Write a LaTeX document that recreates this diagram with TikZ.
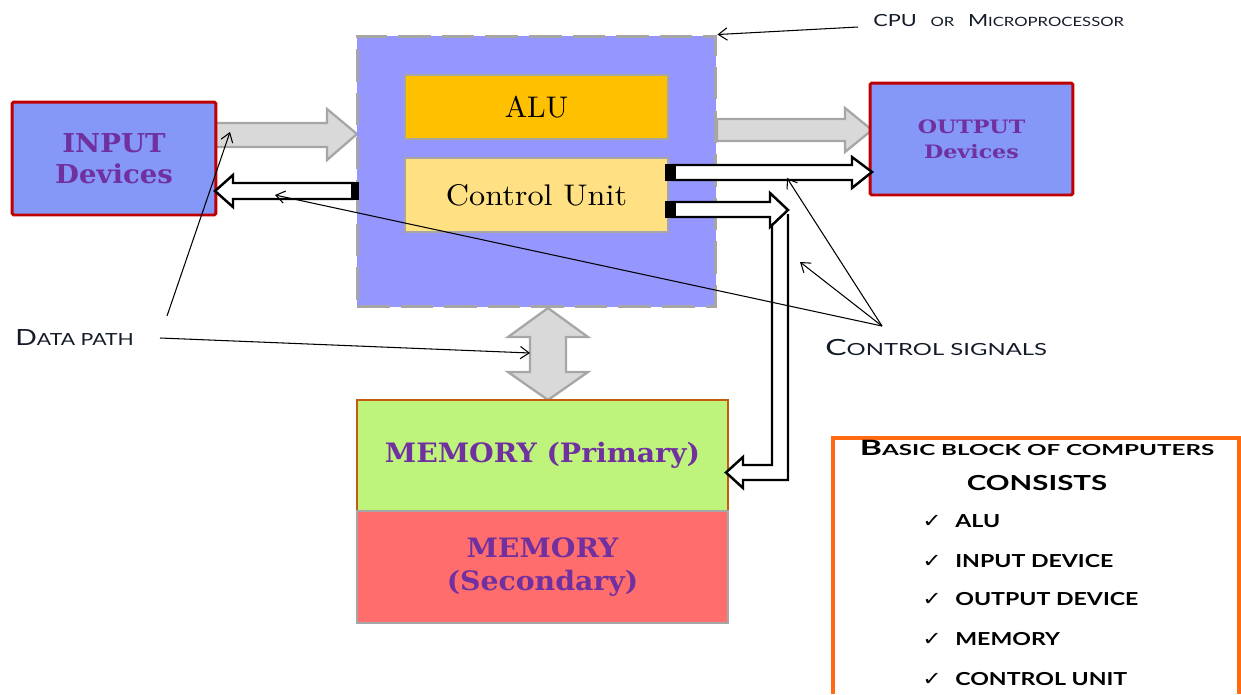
\documentclass[tikz,border=0pt]{standalone}
\usepackage{fontspec}
\usepackage{graphicx}
\usetikzlibrary{arrows.meta}
\newfontfamily\labelfont{Lato}
\newfontfamily\symfont{DejaVu Sans}
\newfontfamily\serifbold{DejaVu Serif}[UprightFont=*-Bold]
\newfontfamily\serifreg{lmroman10-regular.otf}
\definecolor{devfill}{HTML}{8597F7}
\definecolor{cpufill}{HTML}{9696FF}
\definecolor{devborder}{HTML}{C00000}
\definecolor{alufill}{HTML}{FFC000}
\definecolor{cufill}{HTML}{FFE083}
\definecolor{boxgray}{HTML}{A6A6A6}
\definecolor{pathgray}{HTML}{D9D9D9}
\definecolor{memgreen}{HTML}{BFF47C}
\definecolor{memred}{HTML}{FF6D6D}
\definecolor{memborder}{HTML}{C55A11}
\definecolor{txtpurple}{HTML}{7030A0}
\definecolor{labelink}{HTML}{141A28}
\definecolor{listorange}{HTML}{FF6A13}
\newcommand{\fsz}[2]{\fontsize{#1}{#2}\selectfont}
\newcommand{\hstretch}[2]{\scalebox{#1}[1]{#2}}
\tikzset{
  devbox/.style={draw=devborder, line width=1.7pt, fill=devfill, text=txtpurple,
    align=center, rounded corners=1pt},
  cpubox/.style={draw=boxgray, line width=1.7pt, fill=cpufill,
    dash pattern=on 18.5pt off 6.3pt},
  unitbox/.style={draw=boxgray, line width=1.4pt, text=black, align=center,
    font=\serifreg\fsz{17}{20}},
  membox/.style={line width=1.4pt, text=txtpurple, align=center},
  datapath/.style={fill=pathgray, draw=boxgray, line width=1.3pt, line join=miter},
  ctrlpath/.style={fill=white, draw=black, line width=1.4pt, line join=miter},
  ctrlcap/.style={fill=black, draw=none},
  ptr/.style={draw=black, line width=0.6pt, -{Straight Barb[length=5pt,width=7pt]}},
  sclabel/.style={text=labelink, inner sep=0pt, font=\labelfont},
  listitem/.style={text=black, inner sep=0pt, font=\labelfont\bfseries},
}
\begin{document}
\begin{tikzpicture}[x=0.02cm, y=-0.02cm]
\useasboundingbox (0,0) rectangle (1241,694);

% ---------- data paths (grey block arrows) ----------
\path[datapath] (216,123) -- (327,123) -- (327,109) -- (357,134) -- (327,160)
  -- (327,147) -- (216,147) -- cycle;
\path[datapath] (717,119) -- (845,119) -- (845,108) -- (872,130) -- (845,152)
  -- (845,141) -- (717,141) -- cycle;
\path[datapath] (548,308) -- (588,337) -- (566,337) -- (566,372) -- (588,372)
  -- (548,400) -- (508,372) -- (530,372) -- (530,337) -- (508,337) -- cycle;

% ---------- blocks ----------
\node[cpubox, minimum width=7.18cm, minimum height=5.42cm] (cpu) at (536.5,171.5) {};
\node[unitbox, fill=alufill, minimum width=5.26cm, minimum height=1.28cm] (alu)
  at (536.5,107) {ALU};
\node[unitbox, fill=cufill, minimum width=5.26cm, minimum height=1.48cm] (cu)
  at (536.5,195) {\hstretch{1.08}{Control Unit}};

\node[devbox, minimum width=4.08cm, minimum height=2.26cm,
  font=\serifbold\fsz{14.8}{17.6}] (inp) at (114,158.5)
  {\hstretch{1.06}{INPUT}\\\hstretch{1.06}{Devices}};
\node[devbox, minimum width=4.06cm, minimum height=2.24cm,
  font=\serifbold\fsz{10.5}{14.2}] (out) at (971.5,139)
  {\hstretch{1.2}{OUTPUT}\\\hstretch{1.2}{Devices}};

\node[membox, draw=memborder, fill=memgreen, minimum width=7.42cm, minimum height=2.22cm,
  font=\serifbold\fsz{15.2}{19}] (memp) at (542.5,455.5) {\hstretch{1.06}{MEMORY (Primary)}};
\node[membox, draw=boxgray, fill=memred, minimum width=7.42cm, minimum height=2.24cm,
  font=\serifbold\fsz{15.2}{18.7}] (mems) at (542.5,567)
  {\hstretch{1.06}{MEMORY}\\\hstretch{1.06}{(Secondary)}};

% ---------- control signals (hollow arrows) ----------
% control unit -> output devices
\path[ctrlpath] (672,165) -- (852,165) -- (852,157) -- (872,172) -- (852,188)
  -- (852,180) -- (672,180) -- cycle;
\path[ctrlcap] (665,164.3) rectangle (676,180.7);
% control unit -> memory (bent pipe)
\path[ctrlpath] (772,222) -- (772,465) -- (743,465) -- (743,457) -- (726,472.5)
  -- (743,488) -- (743,480) -- (788,480) -- (788,214);
\path[ctrlpath] (672,202) -- (770,202) -- (770,193) -- (788,210) -- (770,227)
  -- (770,217) -- (672,217) -- cycle;
\path[ctrlcap] (665,201.3) rectangle (676,217.7);
% cpu -> input devices
\path[ctrlpath] (353,183) -- (233,183) -- (233,175) -- (215,191) -- (233,207)
  -- (233,199) -- (353,199) -- cycle;
\path[ctrlcap] (351,182.3) rectangle (359,199.7);

% ---------- labels and pointers ----------
\node[sclabel, anchor=base west] (cpulbl) at (873,26)
  {\hstretch{1.3}{\fsz{9.5}{11}CPU\hspace{6pt}\fsz{7.3}{11}OR\hspace{6pt}\fsz{9.5}{11}M\fsz{7.3}{11}ICROPROCESSOR}};
\coordinate (cpuptr) at (858,27);
\draw[ptr] (cpuptr) -- (cpu.north east);

\node[sclabel, anchor=base west] (dplbl) at (15,345)
  {\hstretch{1.27}{\fsz{12.7}{15}D\fsz{9.5}{15}ATA PATH}};
\coordinate (dpA) at (167,316);
\coordinate (dpB) at (160,338);
\coordinate (inflow) at (230,132);
\coordinate (memflow) at (530,353);
\draw[ptr] (dpA) -- (inflow);
\draw[ptr] (dpB) -- (memflow);

\node[sclabel, anchor=base west] (cslbl) at (825,355)
  {\hstretch{1.43}{\fsz{12.7}{15}C\fsz{9.5}{15}ONTROL SIGNALS}};
\coordinate (csapex) at (882,326);
\coordinate (csout) at (787,178);
\coordinate (csmid) at (800,262);
\coordinate (csin) at (275,195);
\draw[ptr] (csapex) -- (csout);
\draw[ptr] (csapex) -- (csmid);
\draw[ptr] (csapex) -- (csin);

% ---------- summary panel ----------
\draw[listorange, line width=1.8pt] (833,694) -- (833,438) -- (1239,438) -- (1239,694);
\node[listitem, anchor=base] (sumtitle) at (1037,455)
  {\hstretch{1.6}{\fsz{12}{13}B\fsz{8.6}{13}ASIC BLOCK OF COMPUTERS}};
\node[listitem, anchor=base] (sumsub) at (1037,490)
  {\hstretch{1.42}{\fsz{11.8}{14}CONSISTS}};
\foreach \y/\t/\n in {527/ALU/i1, 567/INPUT DEVICE/i2, 605/OUTPUT DEVICE/i3,
                      645/MEMORY/i4, 685/CONTROL UNIT/i5} {
  \node[inner sep=0pt, anchor=base west, font=\symfont\fsz{11}{12}] (chk\n) at (922,\y)
    {\hstretch{1.2}{✓}};
  \node[listitem, anchor=base west] (\n) at (955,\y) {\hstretch{1.29}{\fsz{10.2}{12}\t}};
}
\end{tikzpicture}
\end{document}
